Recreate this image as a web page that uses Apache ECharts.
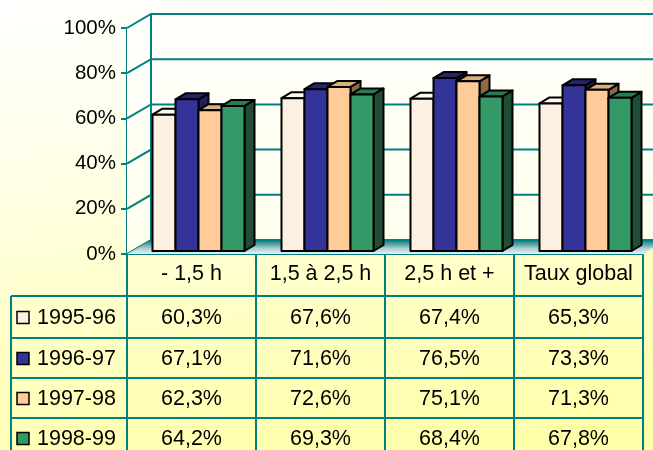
<!DOCTYPE html>
<html>
<head>
<meta charset="utf-8">
<script src="https://cdn.jsdelivr.net/npm/echarts@6/dist/echarts.min.js"></script>
<style>
html, body { margin: 0; padding: 0; }
#chart {
    width: 653px; height: 450px;
    background: linear-gradient(172deg, #ffffff 0%, #ffffe6 35%, #ffffc4 65%, #ffffa6 100%);
}
</style>
</head>
<body>
<div id="chart"></div>
<script>
// donnees
var categories = ['- 1,5 h', '1,5 à 2,5 h', '2,5 h et +', 'Taux global'];
var seriesNames = ['1995-96', '1996-97', '1997-98', '1998-99'];
var v1995 = [60.3, 67.6, 67.4, 65.3];
var v1996 = [67.1, 71.6, 76.5, 73.3];
var v1997 = [62.3, 72.6, 75.1, 71.3];
var v1998 = [64.2, 69.3, 68.4, 67.8];
var yTicks = [0, 20, 40, 60, 80, 100];

var allValues = [v1995, v1996, v1997, v1998];

// couleurs des barres (face, dessus, cote)
var front = ['#FCF0E0', '#333399', '#FFCC99', '#339966'];
var topC  = ['#FFF8EE', '#25256F', '#D8B080', '#2A7A52'];
var side  = ['#E2D4C2', '#1E1E5A', '#8C6A45', '#1F4D35'];

var TEAL = '#008080';
var FONT = 'Arial, "Liberation Sans", sans-serif';

// geometrie 3D
var DX = 24, DY = 14;          // profondeur des parois
var BDX = 10, BDY = 6;         // profondeur des barres
var BAR_W = 23, BAR_SHIFT_X = 7, BAR_SHIFT_Y = 3;

// tableau
var GRID_LEFT = 127, GRID_RIGHT = 643, TABLE_LEFT = 11;
var HEADER_TOP = 254, ROW_TOPS = [296, 338, 378, 418], ROW_BOTTOM = 460;

var myChart = echarts.init(document.getElementById('chart'));

function wallsRender(params, api) {
    var cs = params.coordSys;
    var v = api.value(1);
    var y = api.coord([0, v])[1];
    var x0 = cs.x, x1 = cs.x + cs.width;
    var kids = [];
    if (params.dataIndex === 0) {
        var yTop = cs.y, yBot = cs.y + cs.height;
        kids.push({
            type: 'polygon',
            shape: { points: [[x0, yTop], [x0 + DX, yTop - DY], [x1 + DX, yTop - DY], [x1 + DX, yBot - DY], [x0 + DX, yBot - DY], [x0, yBot]] },
            style: { fill: new echarts.graphic.LinearGradient(0, 0, 0, 1, [
                { offset: 0, color: '#FFFFFD' }, { offset: 1, color: '#FFFFEC' }]) }
        });
        kids.push({
            type: 'line',
            shape: { x1: x0 + DX, y1: yTop - DY, x2: x0 + DX, y2: yBot - DY },
            style: { stroke: TEAL, lineWidth: 2 }
        });
    }
    kids.push({
        type: 'polyline',
        shape: { points: [[x0, y], [x0 + DX, y - DY], [x1 + DX, y - DY]] },
        style: { stroke: TEAL, lineWidth: 2, fill: null }
    });
    if (params.dataIndex === 0) {
        kids.push({
            type: 'polygon',
            shape: { points: [[x0, y], [x0 + DX, y - DY], [x1 + DX, y - DY], [x1, y]] },
            style: { fill: new echarts.graphic.LinearGradient(0, 0, 0, 1, [
                { offset: 0, color: '#007A7A' }, { offset: 0.2, color: '#3F9494' },
                { offset: 0.6, color: '#A9CFCF' }, { offset: 1, color: '#E6F2F0' }]) }
        });
        kids.push({
            type: 'line',
            shape: { x1: x0 + DX, y1: y - DY, x2: x1 + DX, y2: y - DY },
            style: { stroke: TEAL, lineWidth: 2 }
        });
        kids.push({
            type: 'line',
            shape: { x1: x1, y1: y, x2: x1 + DX, y2: y - DY },
            style: { stroke: '#D8ECE4', lineWidth: 2 }
        });
    }
    return { type: 'group', children: kids };
}

function barRender(si) {
    return function (params, api) {
        var cat = api.value(0), v = api.value(1);
        var base = api.coord([cat, 0]);
        var tp = api.coord([cat, v]);
        var x0 = base[0] + BAR_SHIFT_X - 2 * BAR_W + si * BAR_W;
        var x1 = x0 + BAR_W;
        var yb = base[1] - BAR_SHIFT_Y;
        var yt = tp[1] - BAR_SHIFT_Y;
        var st = { stroke: '#000', lineWidth: 2, lineJoin: 'round' };
        return {
            type: 'group',
            children: [
                { type: 'polygon', shape: { points: [[x1, yb], [x1 + BDX, yb - BDY], [x1 + BDX, yt - BDY], [x1, yt]] },
                  style: Object.assign({ fill: side[si] }, st) },
                { type: 'polygon', shape: { points: [[x0, yt], [x0 + BDX, yt - BDY], [x1 + BDX, yt - BDY], [x1, yt]] },
                  style: Object.assign({ fill: topC[si] }, st) },
                { type: 'rect', shape: { x: x0, y: yt, width: BAR_W, height: yb - yt },
                  style: Object.assign({ fill: front[si] }, st) }
            ]
        };
    };
}

var series = [{
    type: 'custom',
    name: 'parois',
    renderItem: wallsRender,
    data: yTicks.map(function (v) { return [0, v]; }),
    encode: { x: 0, y: 1 },
    silent: true,
    z: 1
}];
allValues.forEach(function (vals, si) {
    series.push({
        type: 'custom',
        name: seriesNames[si],
        renderItem: barRender(si),
        data: vals.map(function (v, i) { return [i, v]; }),
        encode: { x: 0, y: 1 },
        z: 3
    });
});

// tableau de donnees
function fmt(v) { return v.toFixed(1).replace('.', ',') + '%'; }
var band = (GRID_RIGHT - GRID_LEFT) / categories.length;
var graphic = [];
function hLine(x1, x2, y) {
    graphic.push({ type: 'line', shape: { x1: x1, y1: y, x2: x2, y2: y }, style: { stroke: TEAL, lineWidth: 2 } });
}
function vLine(x, y1, y2) {
    graphic.push({ type: 'line', shape: { x1: x, y1: y1, x2: x, y2: y2 }, style: { stroke: TEAL, lineWidth: 2 } });
}
ROW_TOPS.forEach(function (y) { hLine(TABLE_LEFT, GRID_RIGHT, y); });
vLine(TABLE_LEFT, ROW_TOPS[0], ROW_BOTTOM);
for (var c = 0; c <= categories.length; c++) {
    vLine(GRID_LEFT + c * band, HEADER_TOP, ROW_BOTTOM);
}
hLine(GRID_LEFT, GRID_RIGHT, HEADER_TOP);
allValues.forEach(function (vals, si) {
    var yTop = ROW_TOPS[si];
    var yc = (yTop + (ROW_TOPS[si + 1] || ROW_BOTTOM - 2)) / 2 + 1;
    graphic.push({
        type: 'rect', shape: { x: 17, y: yc - 6.5, width: 12, height: 12 },
        style: { fill: front[si], stroke: '#000', lineWidth: 1.5 }
    });
    graphic.push({
        type: 'text', x: 37, y: yc,
        style: { text: seriesNames[si], font: '21.5px ' + FONT, fill: '#000', verticalAlign: 'middle', align: 'left' }
    });
    vals.forEach(function (v, i) {
        graphic.push({
            type: 'text', x: GRID_LEFT + band * (i + 0.5), y: yc,
            style: { text: fmt(v), font: '21.5px ' + FONT, fill: '#000', verticalAlign: 'middle', align: 'center' }
        });
    });
});

var option = {
    animation: false,
    backgroundColor: 'transparent',
    grid: { left: GRID_LEFT, right: 653 - GRID_RIGHT, top: 28, bottom: 450 - HEADER_TOP },
    xAxis: {
        type: 'category',
        data: categories,
        axisLine: { show: false },
        axisTick: { show: false },
        axisLabel: { interval: 0, fontSize: 21.5, fontFamily: FONT, color: '#000', margin: 9 },
        splitLine: { show: false }
    },
    yAxis: {
        type: 'value',
        min: 0, max: 100, interval: 20,
        axisLine: { show: true, lineStyle: { color: TEAL, width: 2 } },
        axisTick: { show: true, length: 6, lineStyle: { color: TEAL, width: 2 } },
        axisLabel: { formatter: '{value}%', fontSize: 20.5, fontFamily: FONT, color: '#000', margin: 11 },
        splitLine: { show: false }
    },
    graphic: graphic,
    series: series
};

myChart.setOption(option);
</script>
</body>
</html>
